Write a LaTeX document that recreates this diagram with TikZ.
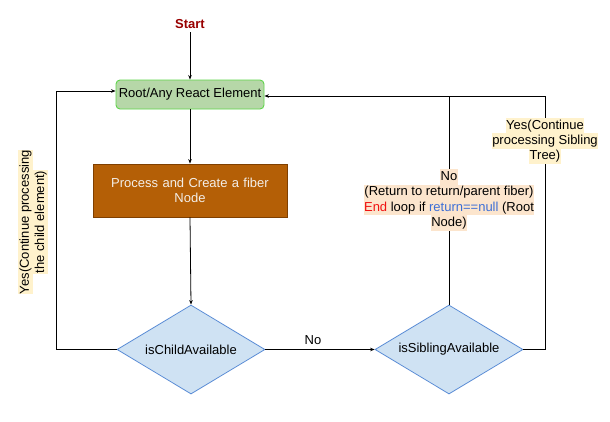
\documentclass[tikz,border=0pt]{standalone}
\usepackage{fontspec}
\setmainfont{Liberation Sans}
\usetikzlibrary{shapes.geometric,arrows.meta}
\definecolor{startred}{HTML}{990000}
\definecolor{rootfill}{HTML}{B6D7A8}
\definecolor{rootdraw}{HTML}{5FD64A}
\definecolor{procfill}{HTML}{B45F06}
\definecolor{procdraw}{HTML}{7F3F00}
\definecolor{proctext}{HTML}{F3EEE8}
\definecolor{dfill}{HTML}{CFE2F3}
\definecolor{ddraw}{HTML}{5B8DD6}
\definecolor{hly}{HTML}{FFF2CC}
\definecolor{hlo}{HTML}{FCE5CD}
\definecolor{endred}{HTML}{F01010}
\definecolor{retblue}{HTML}{3D6FD6}
\setlength{\fboxsep}{0.3pt}
\newcommand{\hlyl}[1]{\colorbox{hly}{\rule[-3.9pt]{0pt}{14.7pt}#1}}
\newcommand{\hlol}[1]{\colorbox{hlo}{\rule[-3.9pt]{0pt}{14.7pt}#1}}
\begin{document}
\begin{tikzpicture}[x=1pt,y=-1pt,
  every node/.style={font=\fontsize{13}{15.3}\selectfont},
  arr/.style={draw=black,line width=0.8pt,-{Stealth[length=4.5pt,width=3.5pt]}},
  ln/.style={draw=black,line width=0.8pt},
  rootbox/.style={draw=rootdraw,fill=rootfill,line width=0.9pt,rounded corners=4pt,
    minimum width=148pt,minimum height=29pt,inner sep=0pt},
  procbox/.style={draw=procdraw,fill=procfill,line width=0.8pt,text=proctext,
    minimum width=194pt,minimum height=53pt,text width=175pt,align=center,inner sep=0pt},
  decbox/.style={diamond,aspect=1.66,draw=ddraw,fill=dfill,line width=0.8pt,
    minimum width=148pt,minimum height=89pt,inner sep=0pt},
  lbl/.style={align=center,inner sep=0pt}]
\useasboundingbox (0,0) rectangle (610,421);
\fill[white] (0,0) rectangle (610,421);

\node[text=startred,font=\fontsize{13}{15}\selectfont\bfseries] (start) at (190,24) {Start};
\node[rootbox] (root) at (190,94.5) {Root/Any React Element};
\node[procbox] (proc) at (190,190.5) {Process and Create a fiber\\Node};
\node[decbox] (child) at (191,349.5) {isChildAvailable};
\node[decbox] (sib) at (449,349.5) {isSiblingAvailable};

\coordinate (cl) at (56,349.5);
\coordinate (cr) at (545,349.5);
\coordinate (top) at (449,96);

\draw[arr] (start.south) -- (root.north);
\draw[arr] (root.south) -- (proc.north);
\draw[arr] (proc.south) -- (child.north);
\draw[arr] (child.east) -- node[above=4pt,inner sep=0pt,xshift=-7pt] (no) {No} (sib.west);
\draw[arr] (child.west) -- (cl) |- ([yshift=3.5pt]root.west);
\draw[arr] (sib.east) -- (cr) |- ([yshift=-1.5pt]root.east);
\draw[ln] (sib.north) -- (top);

\node[lbl] (yesr) at (545,141) {\hlyl{Yes(Continue}\\\hlyl{processing Sibling}\\\hlyl{Tree)}};
\node[lbl] (nol) at (449,200) {\hlol{No}\\\hlol{(Return to return/parent fiber)}\\\hlol{\textcolor{endred}{End} loop if \textcolor{retblue}{return==null} (Root}\\\hlol{Node)}};
\node[lbl,rotate=90] (yesl) at (33,222) {\hlyl{Yes(Continue processing}\\\hlyl{the child element)}};
\end{tikzpicture}
\end{document}
